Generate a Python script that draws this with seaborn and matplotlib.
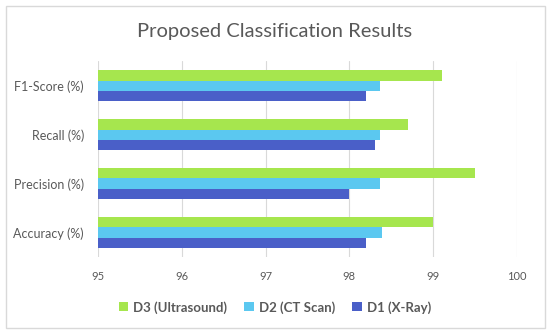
import seaborn as sns
import pandas as pd
import matplotlib.pyplot as plt
from matplotlib.patches import Rectangle

metrics = ["F1-Score (%)", "Recall (%)", "Precision (%)", "Accuracy (%)"]
d3_ultrasound = [99.1, 98.7, 99.5, 99.0]
d2_ct_scan = [98.37, 98.37, 98.37, 98.39]
d1_xray = [98.2, 98.3, 98.0, 98.2]
datasets = ["D3 (Ultrasound)", "D2 (CT Scan)", "D1 (X-Ray)"]
colors = ["#a6e64e", "#5bc8f0", "#4a5fc8"]

df = pd.DataFrame({
    "metric": metrics * 3,
    "value": d3_ultrasound + d2_ct_scan + d1_xray,
    "dataset": [datasets[0]] * 4 + [datasets[1]] * 4 + [datasets[2]] * 4,
})

sns.set_style("white")
plt.rcParams["font.family"] = ["Lato", "DejaVu Sans"]
grey = "#595959"

fig = plt.figure(figsize=(5.5, 3.34), dpi=100)
ax = fig.add_axes([0.178, 0.2305, 0.762, 0.5865])
sns.barplot(data=df, x="value", y="metric", hue="dataset", order=metrics,
            hue_order=datasets, palette=colors, width=0.62, orient="h",
            saturation=1, linewidth=0, ax=ax, legend=True)

ax.set_xlim(95, 100)
ax.set_xticks([95, 96, 97, 98, 99, 100])
ax.grid(axis="x", color="#d9d9d9", linewidth=0.8)
ax.set_axisbelow(True)
for s in ax.spines.values():
    s.set_visible(False)
ax.set_xlabel("")
ax.set_ylabel("")
ax.tick_params(axis="x", length=0, pad=10, labelsize=8, labelcolor=grey)
ax.tick_params(axis="y", length=0, pad=10, labelsize=9, labelcolor=grey)

ax.legend(loc="center", bbox_to_anchor=(0.5, 0.08), bbox_transform=fig.transFigure,
          ncol=3, frameon=False, handlelength=0.7, handleheight=0.7,
          handletextpad=0.4, columnspacing=1.3,
          prop={"size": 9.5, "weight": "bold"}, labelcolor=grey)

fig.text(0.5, 0.905, "Proposed Classification Results", ha="center", va="center",
         fontsize=14.5, color=grey)
fig.patches.append(Rectangle((6 / 550, 6 / 334), 539 / 550, 322 / 334,
                             transform=fig.transFigure, fill=False,
                             edgecolor="#d9d9d9", linewidth=1))

fig.savefig("out.png", dpi=100)
